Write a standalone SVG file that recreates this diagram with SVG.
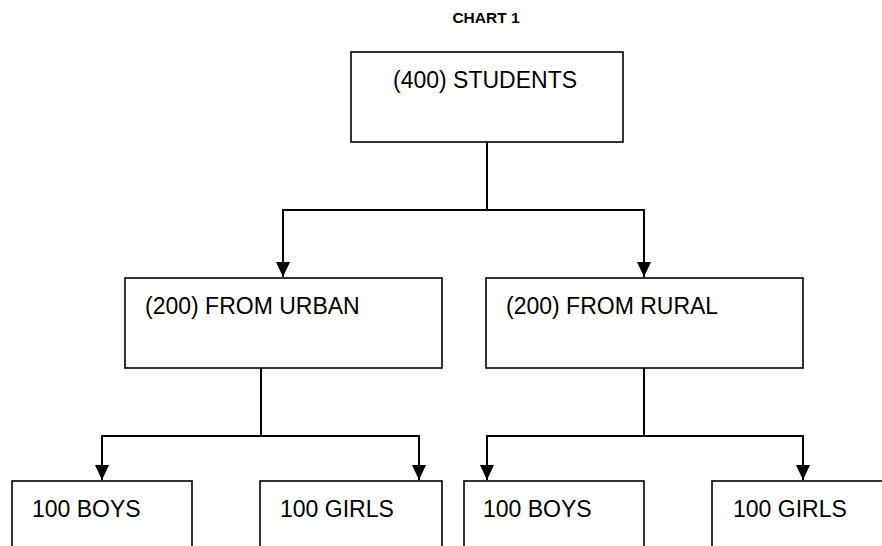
<svg xmlns="http://www.w3.org/2000/svg" width="882" height="546" viewBox="0 0 882 546">
<style>
.box{fill:#fff;stroke:#000;stroke-width:1.6}
.lbl{font-family:"Liberation Sans",Arial,sans-serif;font-size:23px;fill:#000}
.ttl{font-family:"Liberation Sans",Arial,sans-serif;font-size:15.5px;font-weight:bold;fill:#000}
.con{fill:none;stroke:#000;stroke-width:2}
</style>
<defs>
<marker id="ah" markerWidth="14" markerHeight="15" refX="7" refY="15" orient="0" markerUnits="userSpaceOnUse" viewBox="0 0 14 15">
<path d="M0,0 L14,0 L7,15 Z" fill="#000"/>
</marker>
</defs>
<rect width="882" height="546" fill="#fff"/>
<text class="ttl" x="486" y="23" text-anchor="middle">CHART 1</text>
<g id="students"><rect class="box" x="351" y="52" width="272" height="90"/><text class="lbl" x="393" y="88">(400) STUDENTS</text></g>
<g id="urban"><rect class="box" x="125" y="278" width="317" height="90"/><text class="lbl" x="145" y="314">(200) FROM URBAN</text></g>
<g id="rural"><rect class="box" x="486" y="278" width="317" height="90"/><text class="lbl" x="506" y="314">(200) FROM RURAL</text></g>
<g id="urban-boys"><rect class="box" x="12" y="481" width="180" height="80"/><text class="lbl" x="32" y="517">100 BOYS</text></g>
<g id="urban-girls"><rect class="box" x="260" y="481" width="182" height="80"/><text class="lbl" x="280" y="517">100 GIRLS</text></g>
<g id="rural-boys"><rect class="box" x="464" y="481" width="180" height="80"/><text class="lbl" x="483" y="517">100 BOYS</text></g>
<g id="rural-girls"><rect class="box" x="712" y="481" width="190" height="80"/><text class="lbl" x="733" y="517">100 GIRLS</text></g>
<g id="connectors">
<path class="con" d="M487,142 V210"/>
<path class="con" d="M487,210 H283 V277" marker-end="url(#ah)"/>
<path class="con" d="M487,210 H644 V277" marker-end="url(#ah)"/>
<path class="con" d="M261,368 V436"/>
<path class="con" d="M261,436 H102 V480" marker-end="url(#ah)"/>
<path class="con" d="M261,436 H419 V480" marker-end="url(#ah)"/>
<path class="con" d="M644,368 V436"/>
<path class="con" d="M644,436 H487 V480" marker-end="url(#ah)"/>
<path class="con" d="M644,436 H803 V480" marker-end="url(#ah)"/>
</g>
</svg>
